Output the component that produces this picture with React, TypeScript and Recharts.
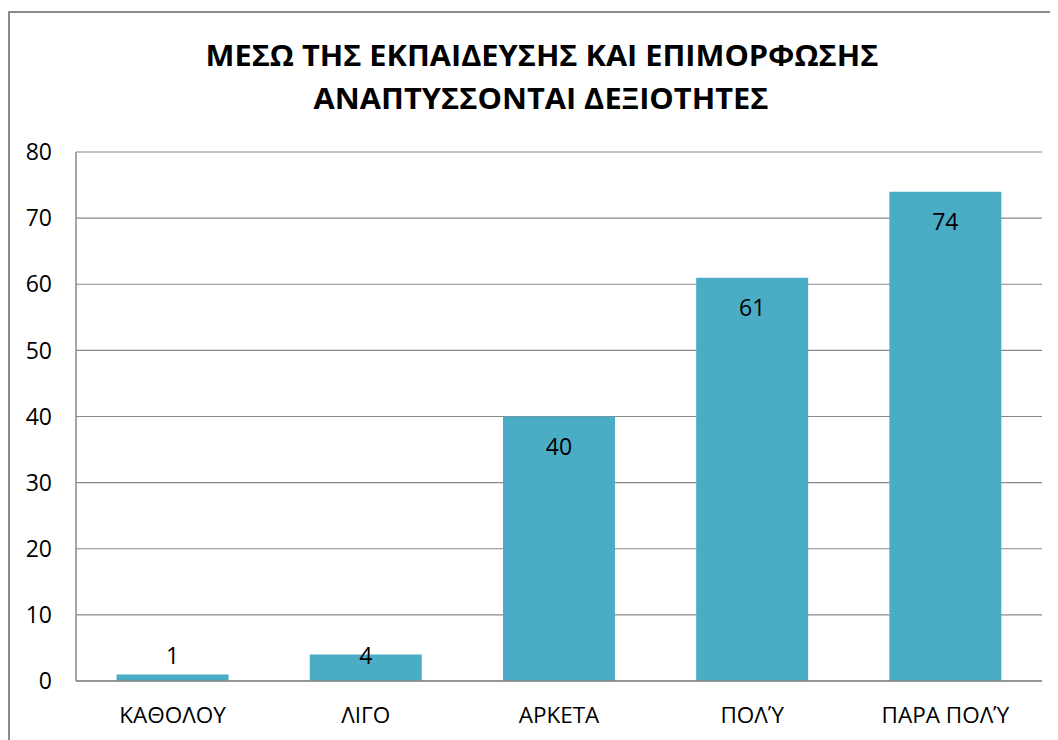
import React from 'react';
import { BarChart, Bar, XAxis, YAxis, CartesianGrid, LabelList } from 'recharts';

const categories = ['ΚΑΘΟΛΟΥ', 'ΛΙΓΟ', 'ΑΡΚΕΤΑ', 'ΠΟΛΎ', 'ΠΑΡΑ ΠΟΛΎ'];
const values = [1, 4, 40, 61, 74];
const yTicks = [0, 10, 20, 30, 40, 50, 60, 70, 80];
const titleLines = ['ΜΕΣΩ ΤΗΣ ΕΚΠΑΙΔΕΥΣΗΣ ΚΑΙ ΕΠΙΜΟΡΦΩΣΗΣ', 'ΑΝΑΠΤΥΣΣΟΝΤΑΙ ΔΕΞΙΟΤΗΤΕΣ'];

const data = categories.map((c, i) => ({ name: c, value: values[i] }));

const FONT = '"Open Sans", sans-serif';

const renderLabel = (props: any) => {
  const x = Number(props.x);
  const y = Number(props.y);
  const width = Number(props.width);
  const height = Number(props.height);
  const cy = Math.min(y + 29, y + height - 26);
  return (
    <text
      x={x + width / 2}
      y={cy}
      textAnchor="middle"
      dominantBaseline="central"
      fontFamily={FONT}
      fontSize={23}
      fill="#000"
    >
      {props.value}
    </text>
  );
};

export default function App() {
  return (
    <div style={{ position: 'relative', width: 1050, height: 732, overflow: 'hidden' }}>
      <div
        style={{
          position: 'absolute',
          left: 0,
          top: 3,
          width: 1200,
          height: 900,
          border: '2px solid #8a8a8a',
          boxSizing: 'border-box',
        }}
      />
      <svg
        width={1050}
        height={140}
        style={{ position: 'absolute', left: 0, top: 0 }}
      >
        <text
          x={534}
          y={46}
          textAnchor="middle"
          dominantBaseline="central"
          fontFamily={FONT}
          fontWeight="bold"
          fontSize={29}
          fill="#000"
          textLength={673}
          lengthAdjust="spacingAndGlyphs"
        >
          {titleLines[0]}
        </text>
        <text
          x={533}
          y={89.5}
          textAnchor="middle"
          dominantBaseline="central"
          fontFamily={FONT}
          fontWeight="bold"
          fontSize={29}
          fill="#000"
          textLength={455}
          lengthAdjust="spacingAndGlyphs"
        >
          {titleLines[1]}
        </text>
      </svg>
      <div style={{ position: 'absolute', left: 0, top: 0 }}>
        <BarChart
          width={1050}
          height={732}
          data={data}
          margin={{ top: 144, right: 16, bottom: 29, left: 8 }}
          barCategoryGap="21%"
        >
          <CartesianGrid vertical={false} stroke="#888" strokeWidth={1.2} />
          <XAxis
            dataKey="name"
            height={30}
            axisLine={{ stroke: '#888', strokeWidth: 1.5 }}
            tickLine={false}
            tickSize={0}
            tickMargin={26}
            tick={{ fill: '#000', fontFamily: FONT, fontSize: 22.5 }}
            interval={0}
          />
          <YAxis
            width={60}
            domain={[0, 80]}
            ticks={yTicks}
            axisLine={{ stroke: '#888', strokeWidth: 1.5 }}
            tickLine={false}
            tickSize={0}
            tickMargin={24}
            tick={{ fill: '#000', fontFamily: FONT, fontSize: 23 }}
            interval={0}
          />
          <Bar dataKey="value" fill="#4BACC6" isAnimationActive={false}>
            <LabelList dataKey="value" content={renderLabel} />
          </Bar>
        </BarChart>
      </div>
    </div>
  );
}
